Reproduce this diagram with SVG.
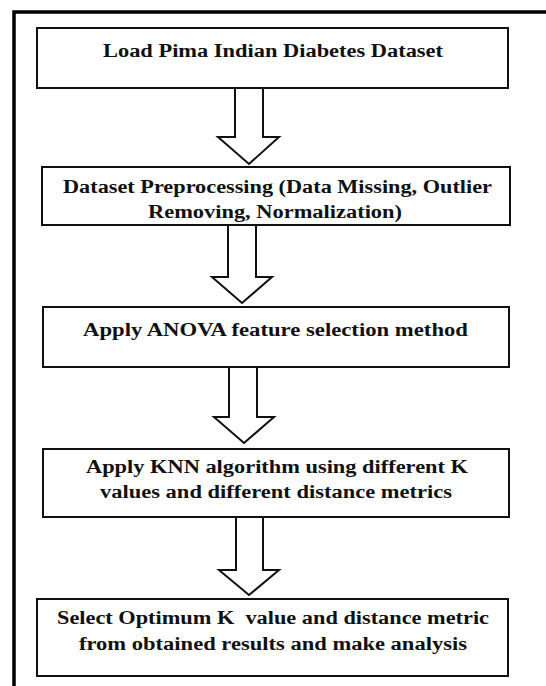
<svg xmlns="http://www.w3.org/2000/svg" width="546" height="686" viewBox="0 0 546 686">
<style>
.box{fill:#fff;stroke:#111;stroke-width:2}
.arr{fill:#fff;stroke:#111;stroke-width:2;stroke-linejoin:miter}
.t{font-family:"Liberation Serif","Times New Roman",serif;font-weight:bold;font-size:18.5px;fill:#111;text-anchor:middle}
</style>
<rect width="546" height="686" fill="#fff"/>
<path d="M14,690 V12 H550" fill="none" stroke="#000" stroke-width="3.5"/>
<g id="connectors">
<polygon class="arr" points="235,88 263,88 263,137 279,137 249,164 218,137 235,137"/>
<polygon class="arr" points="228,225 256,225 256,277 272,277 242,303 212,277 228,277"/>
<polygon class="arr" points="229,367 257,367 257,417 274,417 244,443 214,417 229,417"/>
<polygon class="arr" points="236,517 263,517 263,570 279,570 249,595 219,570 236,570"/>
</g>
<g id="n1">
<rect class="box" x="37" y="28" width="471" height="60"/>
<text class="t" x="273" y="57" textLength="340" lengthAdjust="spacingAndGlyphs">Load Pima Indian Diabetes Dataset</text>
</g>
<g id="n2">
<rect class="box" x="42" y="167" width="468" height="58"/>
<text class="t" x="277.5" y="193" textLength="429" lengthAdjust="spacingAndGlyphs">Dataset Preprocessing (Data Missing, Outlier</text>
<text class="t" x="275" y="218" textLength="254" lengthAdjust="spacingAndGlyphs">Removing, Normalization)</text>
</g>
<g id="n3">
<rect class="box" x="43" y="307" width="466" height="60"/>
<text class="t" x="275.5" y="336" textLength="385" lengthAdjust="spacingAndGlyphs">Apply ANOVA feature selection method</text>
</g>
<g id="n4">
<rect class="box" x="43" y="449" width="466" height="68"/>
<text class="t" x="277" y="473" textLength="382" lengthAdjust="spacingAndGlyphs">Apply KNN algorithm using different K</text>
<text class="t" x="276" y="498" textLength="352" lengthAdjust="spacingAndGlyphs">values and different distance metrics</text>
</g>
<g id="n5">
<rect class="box" x="37" y="599" width="471" height="77"/>
<text class="t" x="273" y="624" textLength="432" lengthAdjust="spacingAndGlyphs" xml:space="preserve">Select Optimum K  value and distance metric</text>
<text class="t" x="273" y="650" textLength="388" lengthAdjust="spacingAndGlyphs">from obtained results and make analysis</text>
</g>
</svg>
